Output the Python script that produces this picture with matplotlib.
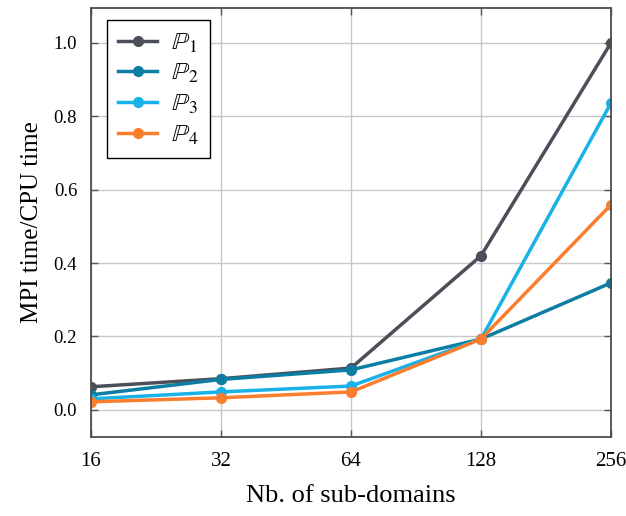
import matplotlib.pyplot as plt
import numpy as np

plt.rcParams['font.family'] = ['Liberation Serif', 'DejaVu Serif']
plt.rcParams['mathtext.fontset'] = 'stix'

subdomains = [16, 32, 64, 128, 256]
p1 = [0.063, 0.085, 0.114, 0.420, 1.000]
p2 = [0.041, 0.083, 0.109, 0.193, 0.346]
p3 = [0.030, 0.049, 0.065, 0.193, 0.836]
p4 = [0.022, 0.033, 0.049, 0.193, 0.559]
labels = [r'$\mathbb{P}_1$', r'$\mathbb{P}_2$', r'$\mathbb{P}_3$', r'$\mathbb{P}_4$']
colors = ['#4a4f58', '#0d7ea3', '#18b2e8', '#fb7d2e']

fig = plt.figure(figsize=(6.26, 5.16), dpi=100)
ax = fig.add_axes([0.1454, 0.153, 0.8306, 0.8315])

for ys, lab, c in zip([p1, p2, p3, p4], labels, colors):
    ax.plot(subdomains, ys, color=c, lw=2.5, marker='o', ms=7, label=lab)

ax.set_xscale('log', base=2)
ax.set_xlim(16, 256)
ax.set_ylim(-0.074, 1.095)
ax.set_xticks(subdomains)
ax.set_xticklabels([str(s) for s in subdomains])
ax.minorticks_off()
ax.set_yticks([0.0, 0.2, 0.4, 0.6, 0.8, 1.0])
ax.set_yticklabels(['0.0', '0.2', '0.4', '0.6', '0.8', '1.0'])
ax.grid(True, color='#c8c8c8', lw=1)
ax.set_axisbelow(True)
ax.tick_params(direction='in', length=5, width=1, color='#555555',
               top=True, right=True, labelsize=13.5)
ax.tick_params(axis='x', pad=11, labelsize=15)
ax.tick_params(axis='y', pad=10)
for s in ax.spines.values():
    s.set_color('#4d4d4d')
    s.set_linewidth(1.3)

ax.set_xlabel('Nb. of sub-domains', fontsize=19, labelpad=10)
ax.set_ylabel('MPI time/CPU time', fontsize=18, labelpad=8)

leg = ax.legend(loc='upper left', fontsize=18, fancybox=False, edgecolor='black',
                framealpha=1, handlelength=1.55, borderpad=0.45,
                bbox_to_anchor=(0.031, 0.972), borderaxespad=0,
                labelspacing=0.3, handletextpad=0.55)
leg.get_frame().set_linewidth(1.0)

fig.savefig('out.png', dpi=100)
